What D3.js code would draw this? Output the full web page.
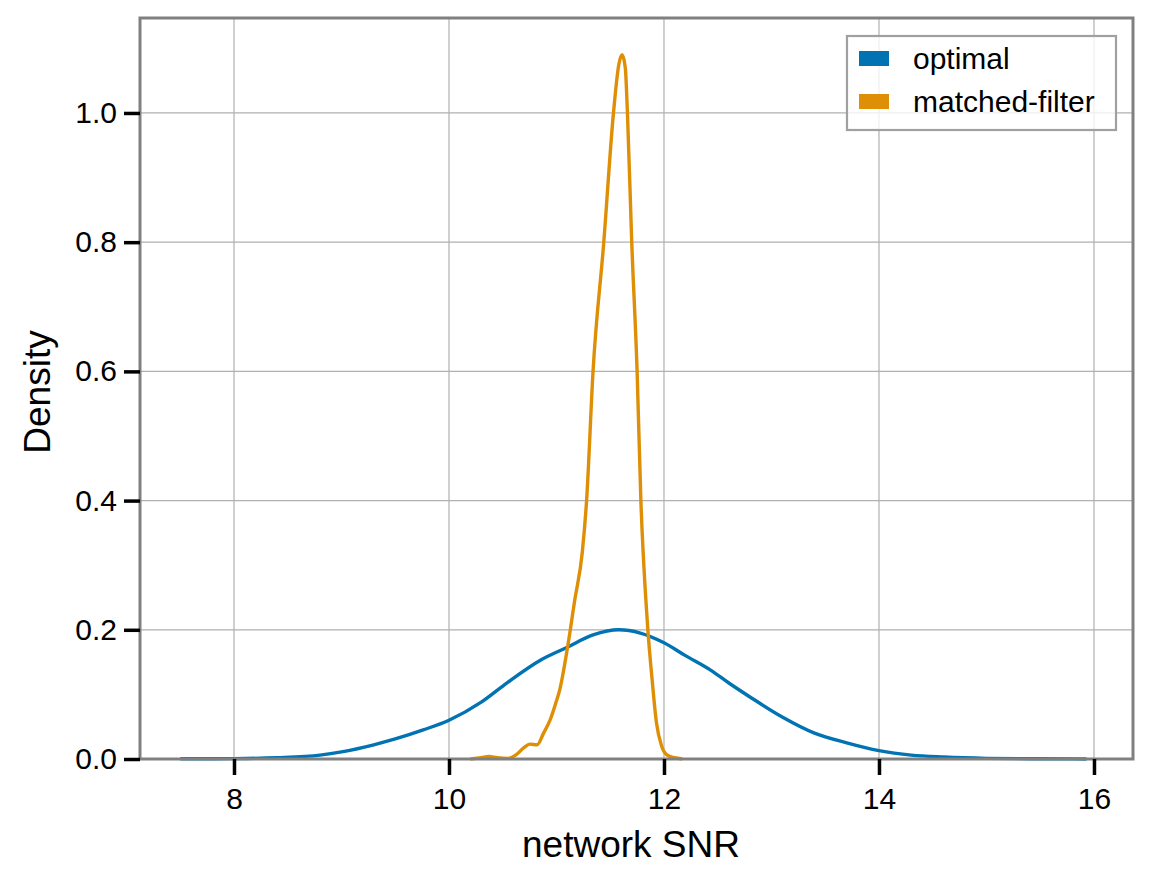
<!DOCTYPE html>
<html>
<head>
<meta charset="utf-8">
<script src="https://cdn.jsdelivr.net/npm/d3@7"></script>
<style>
  body { margin: 0; background: #fff; }
  svg { font-family: "Liberation Sans", Arial, sans-serif; }
</style>
</head>
<body>
<div id="chart"></div>
<script>
// Data (KDE curves)
const optimalX = [7.5, 8.0, 8.4, 8.8, 9.0, 9.3, 9.5, 9.76, 10.0, 10.3, 10.54, 10.85, 11.1, 11.34, 11.58, 11.78, 12.0, 12.2, 12.43, 12.6, 12.8, 13.1, 13.4, 13.7, 14.0, 14.3, 14.6, 15.0, 15.5, 15.93];
const optimalY = [0.0003, 0.0006, 0.002, 0.006, 0.011, 0.022, 0.031, 0.045, 0.06, 0.088, 0.118, 0.153, 0.173, 0.192, 0.2, 0.195, 0.18, 0.16, 0.138, 0.118, 0.096, 0.065, 0.04, 0.025, 0.013, 0.006, 0.003, 0.001, 0.0003, 0.0001];

const mfX = [10.2, 10.3, 10.37, 10.45, 10.55, 10.62, 10.7, 10.75, 10.82, 10.88, 10.94, 11.0, 11.03, 11.1, 11.17, 11.24, 11.28, 11.34, 11.44, 11.53, 11.58, 11.61, 11.64, 11.66, 11.7, 11.75, 11.785, 11.83, 11.85, 11.89, 11.93, 11.98, 12.03, 12.1, 12.17];
const mfY = [0.0, 0.002, 0.004, 0.002, 0.001, 0.006, 0.018, 0.023, 0.022, 0.04, 0.06, 0.09, 0.107, 0.17, 0.246, 0.32, 0.4, 0.6, 0.8, 1.0, 1.075, 1.09, 1.07, 1.0, 0.8, 0.6, 0.4, 0.25, 0.2, 0.122, 0.056, 0.019, 0.006, 0.002, 0.0];

const xTicks = [8, 10, 12, 14, 16];
const yTicks = [0.0, 0.2, 0.4, 0.6, 0.8, 1.0];
const seriesNames = ["optimal", "matched-filter"];
const seriesColors = ["#0173b2", "#de8f05"];

// Layout
const W = 1151, H = 883;
const margin = { top: 18, right: 18, bottom: 124, left: 140 };
const width = W - margin.left - margin.right;
const height = H - margin.top - margin.bottom;

const svg = d3.select("#chart")
  .append("svg")
  .attr("width", W)
  .attr("height", H);

const g = svg.append("g")
  .attr("transform", `translate(${margin.left},${margin.top})`);

const xScale = d3.scaleLinear().domain([7.1256, 16.363]).range([0, width]);
const yScale = d3.scaleLinear().domain([0, 1.147]).range([height, 0]);

// Grid
g.append("g")
  .selectAll("line")
  .data(xTicks)
  .join("line")
  .attr("x1", d => xScale(d)).attr("x2", d => xScale(d))
  .attr("y1", 0).attr("y2", height)
  .attr("stroke", "#b0b0b0").attr("stroke-width", 1.2);

g.append("g")
  .selectAll("line")
  .data(yTicks)
  .join("line")
  .attr("x1", 0).attr("x2", width)
  .attr("y1", d => yScale(d)).attr("y2", d => yScale(d))
  .attr("stroke", "#b0b0b0").attr("stroke-width", 1.2);

// Curves
const line = d3.line()
  .x(d => xScale(d[0]))
  .y(d => yScale(d[1]))
  .curve(d3.curveMonotoneX);

const series = [
  d3.zip(optimalX, optimalY),
  d3.zip(mfX, mfY)
];

g.append("g")
  .selectAll("path")
  .data(series)
  .join("path")
  .attr("d", line)
  .attr("fill", "none")
  .attr("stroke", (d, i) => seriesColors[i])
  .attr("stroke-width", 3.4)
  .attr("stroke-linejoin", "round");

// Frame
g.append("rect")
  .attr("width", width)
  .attr("height", height)
  .attr("fill", "none")
  .attr("stroke", "#808080")
  .attr("stroke-width", 3);

// Axes
const xAxis = g.append("g")
  .attr("transform", `translate(0,${height})`)
  .call(d3.axisBottom(xScale).tickValues(xTicks).tickFormat(d3.format("d")).tickSize(16).tickPadding(13));

const yAxis = g.append("g")
  .call(d3.axisLeft(yScale).tickValues(yTicks).tickFormat(d3.format(".1f")).tickSize(16).tickPadding(7));

[xAxis, yAxis].forEach(a => {
  a.select(".domain").remove();
  a.selectAll(".tick line").attr("stroke", "#000").attr("stroke-width", 3.5);
  a.selectAll(".tick text").attr("fill", "#000").style("font-size", "30px")
    .style("font-family", "'Liberation Sans', Arial, sans-serif");
});

// Axis labels
svg.append("text")
  .attr("x", 631)
  .attr("y", 857)
  .attr("text-anchor", "middle")
  .style("font-size", "37px")
  .text("network SNR");

svg.append("text")
  .attr("transform", "translate(50,392) rotate(-90)")
  .attr("text-anchor", "middle")
  .style("font-size", "37px")
  .text("Density");

// Legend
const legend = svg.append("g").attr("transform", "translate(847,36)");
legend.append("rect")
  .attr("width", 269)
  .attr("height", 94)
  .attr("fill", "#fff")
  .attr("fill-opacity", 0.8)
  .attr("stroke", "#a0a0a0")
  .attr("stroke-width", 2.2);

const items = legend.selectAll(".item")
  .data(seriesNames)
  .join("g")
  .attr("class", "item")
  .attr("transform", (d, i) => `translate(12,${15 + i * 43})`);

items.append("rect")
  .attr("width", 30)
  .attr("height", 15)
  .attr("fill", (d, i) => seriesColors[i]);

items.append("text")
  .attr("x", 54)
  .attr("y", 18)
  .style("font-size", "30px")
  .text(d => d);
</script>
</body>
</html>
